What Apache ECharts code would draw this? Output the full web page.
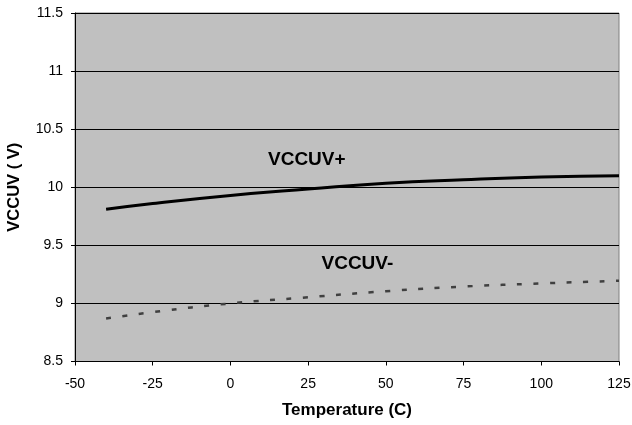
<!DOCTYPE html>
<html><head><meta charset="utf-8">
<script src="https://cdn.jsdelivr.net/npm/echarts@6/dist/echarts.min.js"></script>
<style>html,body{margin:0;padding:0;background:#fff}#c{width:632px;height:425px}</style>
</head><body><div id="c"></div>
<script>
var temps = [-40, -25, 0, 25, 50, 75, 100, 125];
var vccuvPlus = [9.81, 9.86, 9.93, 9.985, 10.035, 10.065, 10.088, 10.10];
var vccuvMinus = [8.87, 8.925, 9.00, 9.053, 9.105, 9.145, 9.172, 9.195];
var xTicks = [-50, -25, 0, 25, 50, 75, 100, 125];
var yTicks = [8.5, 9, 9.5, 10, 10.5, 11, 11.5];

function pairs(xs, ys){ return xs.map(function(x,i){return [x, ys[i]];}); }
var chart = echarts.init(document.getElementById('c'));
var font = 'Liberation Sans, Arial, sans-serif';
chart.setOption({
  animation: false,
  backgroundColor: '#fff',
  grid: {left: 75, right: 13, top: 13, bottom: 63.5, containLabel: false, outerBoundsMode: 'none',
         show: true, backgroundColor: '#c0c0c0', borderColor: '#808080', borderWidth: 1},
  xAxis: {
    type: 'value', min: xTicks[0], max: xTicks[xTicks.length-1], interval: 25,
    axisLine: {show: true, onZero: false, lineStyle: {color: '#000', width: 1}},
    axisTick: {show: true, length: 4, lineStyle: {color: '#000'}},
    axisLabel: {color: '#000', fontSize: 14, fontFamily: font, margin: 16},
    splitLine: {show: false},
    name: 'Temperature (C)', nameLocation: 'middle', nameGap: 40,
    nameTextStyle: {color: '#000', fontSize: 17, fontWeight: 'bold', fontFamily: font}
  },
  yAxis: {
    type: 'value', min: yTicks[0], max: yTicks[yTicks.length-1], interval: 0.5,
    axisLine: {show: true, onZero: false, lineStyle: {color: '#000', width: 1}},
    axisTick: {show: true, length: 4, lineStyle: {color: '#000'}},
    axisLabel: {color: '#000', fontSize: 14, fontFamily: font, margin: 12},
    splitLine: {show: true, lineStyle: {color: '#000', width: 1}},
    name: 'VCCUV ( V)', nameLocation: 'middle', nameGap: 52, nameRotate: 90,
    nameTextStyle: {color: '#000', fontSize: 16.5, fontWeight: 'bold', fontFamily: font}
  },
  series: [
    {type: 'line', name: 'VCCUV+', data: pairs(temps, vccuvPlus), smooth: true, showSymbol: false,
     lineStyle: {color: '#000', width: 3}},
    {type: 'line', name: 'VCCUV-', data: pairs(temps, vccuvMinus), smooth: true, showSymbol: false,
     lineStyle: {color: '#404040', width: 2.5, type: [5, 11.5]}}
  ],
  graphic: [
    {type: 'text', x: 268, y: 159.5, style: {text: 'VCCUV+', font: 'bold 19px ' + font, fill: '#000', verticalAlign: 'middle'}},
    {type: 'text', x: 321.5, y: 263.5, style: {text: 'VCCUV-', font: 'bold 19px ' + font, fill: '#000', verticalAlign: 'middle'}}
  ]
});
</script></body></html>
